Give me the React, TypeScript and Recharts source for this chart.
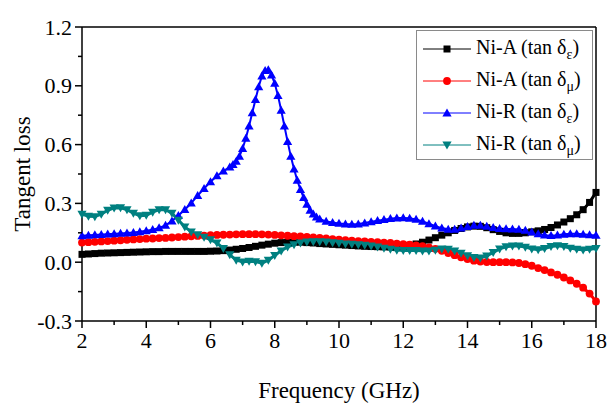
import { LineChart, Line, XAxis, YAxis, Legend, ReferenceLine, Label } from "recharts";

// measurement grid (GHz)
const FREQ = [
  2.0, 2.2, 2.4, 2.6, 2.8, 3.0, 3.2, 3.4, 3.6, 3.8, 4.0, 4.2, 4.4, 4.6, 4.8, 5.0, 5.2, 5.4, 5.6, 5.8,
  6.0, 6.2, 6.4, 6.6, 6.8, 7.0, 7.2, 7.4, 7.6, 7.8, 8.0, 8.2, 8.4, 8.6, 8.8, 9.0, 9.2, 9.4, 9.6, 9.8,
  10.0, 10.2, 10.4, 10.6, 10.8, 11.0, 11.2, 11.4, 11.6, 11.8, 12.0, 12.2, 12.4, 12.6, 12.8, 13.0, 13.2,
  13.4, 13.6, 13.8, 14.0, 14.2, 14.4, 14.6, 14.8, 15.0, 15.2, 15.4, 15.6, 15.8, 16.0, 16.2, 16.4, 16.6,
  16.8, 17.0, 17.2, 17.4, 17.6, 17.8, 18.0,
];

// Ni-A tan δε
const NI_A_EPS = [
  0.040, 0.042, 0.044, 0.046, 0.047, 0.048, 0.049, 0.050, 0.051, 0.052, 0.053, 0.054, 0.054, 0.055, 0.055,
  0.055, 0.055, 0.055, 0.055, 0.055, 0.056, 0.057, 0.059, 0.062, 0.066, 0.070, 0.075, 0.081, 0.087, 0.092,
  0.097, 0.100, 0.102, 0.103, 0.102, 0.100, 0.098, 0.095, 0.093, 0.091, 0.089, 0.087, 0.085, 0.083, 0.081,
  0.080, 0.079, 0.078, 0.078, 0.079, 0.081, 0.086, 0.093, 0.102, 0.113, 0.125, 0.138, 0.150, 0.162, 0.172,
  0.180, 0.184, 0.183, 0.176, 0.166, 0.157, 0.150, 0.147, 0.147, 0.150, 0.155, 0.160, 0.167, 0.177, 0.190,
  0.205, 0.222, 0.242, 0.268, 0.305, 0.356,
];

// Ni-A tan δμ
const NI_A_MU = [
  0.100, 0.102, 0.104, 0.106, 0.108, 0.110, 0.112, 0.114, 0.116, 0.118, 0.120, 0.121, 0.123, 0.124, 0.126,
  0.128, 0.130, 0.132, 0.134, 0.136, 0.138, 0.139, 0.140, 0.141, 0.142, 0.143, 0.143, 0.143, 0.142, 0.141,
  0.139, 0.137, 0.135, 0.133, 0.131, 0.129, 0.127, 0.124, 0.121, 0.118, 0.115, 0.112, 0.110, 0.108, 0.106,
  0.104, 0.102, 0.100, 0.098, 0.095, 0.092, 0.089, 0.086, 0.082, 0.076, 0.068, 0.058, 0.047, 0.036, 0.025,
  0.016, 0.008, 0.003, 0.001, 0.000, 0.000, 0.000, -0.001, -0.004, -0.010, -0.018, -0.030, -0.040, -0.052,
  -0.064, -0.078, -0.093, -0.110, -0.130, -0.160, -0.200,
];

// Ni-R tan δμ
const NI_R_MU = [
  0.245, 0.235, 0.233, 0.245, 0.265, 0.277, 0.278, 0.268, 0.250, 0.237, 0.240, 0.255, 0.268, 0.268, 0.250,
  0.215, 0.180, 0.155, 0.140, 0.128, 0.115, 0.098, 0.070, 0.038, 0.010, 0.002, 0.005, 0.003, -0.005, 0.010,
  0.035, 0.058, 0.078, 0.090, 0.098, 0.103, 0.105, 0.105, 0.103, 0.100, 0.097, 0.094, 0.092, 0.090, 0.087,
  0.083, 0.078, 0.072, 0.066, 0.062, 0.060, 0.060, 0.060, 0.058, 0.058, 0.062, 0.068, 0.066, 0.058, 0.046,
  0.033, 0.024, 0.022, 0.032, 0.050, 0.068, 0.079, 0.083, 0.083, 0.077, 0.068, 0.064, 0.070, 0.080, 0.084,
  0.080, 0.072, 0.066, 0.063, 0.066, 0.070,
];

// Ni-R tan δε, sampled finer around the resonance peak
const NI_R_EPS_FREQ = [
  2.0, 2.2, 2.4, 2.6, 2.8, 3.0, 3.2, 3.4, 3.6, 3.8, 4.0, 4.2, 4.4, 4.6, 4.8, 5.0, 5.2, 5.4, 5.6, 5.8, 6.0,
  6.2, 6.4, 6.6, 6.7, 6.8, 6.9, 7.0, 7.1, 7.2, 7.3, 7.4, 7.5, 7.6, 7.7, 7.8, 7.9, 8.0, 8.1, 8.2, 8.3, 8.4,
  8.5, 8.6, 8.7, 8.8, 8.9, 9.0, 9.1, 9.2, 9.3, 9.4, 9.6, 9.8, 10.0, 10.2, 10.4, 10.6, 10.8, 11.0, 11.2,
  11.4, 11.6, 11.8, 12.0, 12.2, 12.4, 12.6, 12.8, 13.0, 13.2, 13.4, 13.6, 13.8, 14.0, 14.2, 14.4, 14.6,
  14.8, 15.0, 15.2, 15.4, 15.6, 15.8, 16.0, 16.2, 16.4, 16.6, 16.8, 17.0, 17.2, 17.4, 17.6, 17.8, 18.0,
];
const NI_R_EPS = [
  0.135, 0.137, 0.139, 0.141, 0.143, 0.145, 0.147, 0.149, 0.151, 0.155, 0.160, 0.166, 0.175, 0.188, 0.210,
  0.238, 0.268, 0.302, 0.340, 0.376, 0.410, 0.440, 0.465,
  0.485, 0.498, 0.515, 0.540, 0.580, 0.632, 0.695, 0.762, 0.830, 0.895, 0.950, 0.978, 0.982, 0.955, 0.912,
  0.850, 0.775, 0.695, 0.615, 0.540, 0.475, 0.418, 0.370, 0.330, 0.295, 0.265, 0.245, 0.230, 0.220,
  0.208, 0.202, 0.198, 0.195, 0.193, 0.195, 0.200, 0.206, 0.212, 0.217, 0.222, 0.225, 0.226, 0.224, 0.218,
  0.208, 0.196, 0.184, 0.174, 0.168, 0.168, 0.174, 0.182, 0.188, 0.188, 0.183, 0.177, 0.172, 0.170, 0.169,
  0.167, 0.162, 0.154, 0.145, 0.138, 0.136, 0.138, 0.142, 0.145, 0.145, 0.142, 0.139, 0.137,
];

const X_TICKS = [2, 3, 4, 5, 6, 7, 8, 9, 10, 11, 12, 13, 14, 15, 16, 17, 18];
const Y_TICKS = [-0.3, -0.15, 0, 0.15, 0.3, 0.45, 0.6, 0.75, 0.9, 1.05, 1.2];

const FONT = "'Liberation Serif', serif";

const toPoints = (xs: number[], ys: number[]) =>
  xs.map((f, i) => ({ f, v: ys[i] })).filter((p) => p.v !== undefined);

type Shape = "square" | "circle" | "up" | "down";

function Marker({ shape, cx, cy, color }: { shape: Shape; cx: number; cy: number; color: string }) {
  if (shape === "square") return <rect x={cx - 3.5} y={cy - 3.5} width={7} height={7} fill={color} />;
  if (shape === "circle") return <circle cx={cx} cy={cy} r={3.9} fill={color} />;
  if (shape === "up")
    return <polygon points={`${cx},${cy - 4.6} ${cx - 4.6},${cy + 3.4} ${cx + 4.6},${cy + 3.4}`} fill={color} />;
  return <polygon points={`${cx},${cy + 4.6} ${cx - 4.6},${cy - 3.4} ${cx + 4.6},${cy - 3.4}`} fill={color} />;
}

const dotFor = (shape: Shape, color: string) => (p: any) => {
  if (p.cx == null || p.cy == null) return <g key={`${shape}-${p.index}`} />;
  return (
    <g key={`${shape}-${p.index}`}>
      <Marker shape={shape} cx={p.cx} cy={p.cy} color={color} />
    </g>
  );
};

const SERIES = [
  { key: "aEps", sample: "Ni-A", sub: "ε", color: "#000000", shape: "square" as Shape, width: 3, data: toPoints(FREQ, NI_A_EPS) },
  { key: "aMu", sample: "Ni-A", sub: "μ", color: "#ff0000", shape: "circle" as Shape, width: 3, data: toPoints(FREQ, NI_A_MU) },
  { key: "rEps", sample: "Ni-R", sub: "ε", color: "#0000ff", shape: "up" as Shape, width: 2, data: toPoints(NI_R_EPS_FREQ, NI_R_EPS) },
  { key: "rMu", sample: "Ni-R", sub: "μ", color: "#008080", shape: "down" as Shape, width: 3, data: toPoints(FREQ, NI_R_MU) },
];

const isMajorY = (v: number) => Math.abs(Math.round(v / 0.3) * 0.3 - v) < 1e-6;

function XTick({ x, y, payload }: any) {
  const major = payload.value % 2 === 0;
  return (
    <g>
      <line x1={x} y1={y} x2={x} y2={y + (major ? 7 : 4)} stroke="#000" strokeWidth={1.5} />
      {major && (
        <text x={x} y={y + 27} textAnchor="middle" style={{ fontFamily: FONT, fontSize: 22 }} fill="#000">
          {payload.value}
        </text>
      )}
    </g>
  );
}

function YTick({ x, y, payload }: any) {
  const major = isMajorY(payload.value);
  return (
    <g>
      <line x1={x} y1={y} x2={x - (major ? 7 : 4)} y2={y} stroke="#000" strokeWidth={1.5} />
      {major && (
        <text x={x - 10} y={y + 7.5} textAnchor="end" style={{ fontFamily: FONT, fontSize: 22 }} fill="#000">
          {payload.value.toFixed(1)}
        </text>
      )}
    </g>
  );
}

function LegendBox() {
  return (
    <div
      style={{
        border: "1px solid #8a8a8a",
        background: "#fff",
        boxSizing: "border-box",
        width: 177,
        height: 130,
        padding: "2px 0 0 6px",
        fontFamily: FONT,
        fontSize: 20,
        color: "#000",
      }}
    >
      {SERIES.map((s) => (
        <div key={s.key} style={{ display: "flex", alignItems: "center", height: 32 }}>
          <svg width={48} height={20} style={{ flex: "none" }}>
            <line x1={0} y1={10} x2={48} y2={10} stroke={s.color} strokeWidth={1} />
            <Marker shape={s.shape} cx={24} cy={10} color={s.color} />
          </svg>
          <span style={{ marginLeft: 5, whiteSpace: "nowrap" }}>
            {s.sample} (tan δ<sub style={{ fontSize: 14 }}>{s.sub}</sub>)
          </span>
        </div>
      ))}
    </div>
  );
}

export default function App() {
  return (
    <div style={{ width: 610, height: 416, background: "#fff", fontFamily: FONT }}>
      <style>{"body{margin:0}"}</style>
      <LineChart width={610} height={416} margin={{ top: 27, right: 14, bottom: 0, left: 0 }}>
        <XAxis
          dataKey="f"
          type="number"
          domain={[2, 18]}
          ticks={X_TICKS}
          interval={0}
          height={95}
          tickSize={0}
          tickMargin={0}
          tickLine={false}
          axisLine={{ stroke: "#000", strokeWidth: 1.5 }}
          tick={<XTick />}
          allowDuplicatedCategory={false}
        >
          <Label
            value="Frequency (GHz)"
            position="insideBottom"
            offset={18}
            style={{ fontFamily: FONT, fontSize: 23, fill: "#000" }}
          />
        </XAxis>
        <YAxis
          dataKey="v"
          type="number"
          domain={[-0.3, 1.2]}
          ticks={Y_TICKS}
          interval={0}
          width={82}
          tickSize={0}
          tickMargin={0}
          tickLine={false}
          axisLine={{ stroke: "#000", strokeWidth: 1.5 }}
          tick={<YTick />}
        >
          <Label
            content={({ viewBox }: any) => {
              const cx = 22;
              const cy = viewBox.y + viewBox.height / 2;
              return (
                <text
                  x={cx}
                  y={cy}
                  transform={`rotate(-90 ${cx} ${cy})`}
                  textAnchor="middle"
                  dominantBaseline="central"
                  style={{ fontFamily: FONT, fontSize: 23 }}
                  fill="#000"
                >
                  Tangent loss
                </text>
              );
            }}
          />
        </YAxis>
        <ReferenceLine y={1.2} stroke="#000" strokeWidth={1.5} />
        <ReferenceLine x={18} stroke="#000" strokeWidth={1.5} />
        {SERIES.map((s) => (
          <Line
            key={s.key}
            data={s.data}
            dataKey="v"
            name={`${s.sample} (tan δ${s.sub})`}
            stroke={s.color}
            strokeWidth={s.width}
            dot={dotFor(s.shape, s.color)}
            activeDot={false}
            isAnimationActive={false}
          />
        ))}
        <Legend
          layout="vertical"
          align="center"
          verticalAlign="middle"
          content={() => <LegendBox />}
          wrapperStyle={{ left: 416, top: 30, width: 177, height: 130 }}
        />
      </LineChart>
    </div>
  );
}
